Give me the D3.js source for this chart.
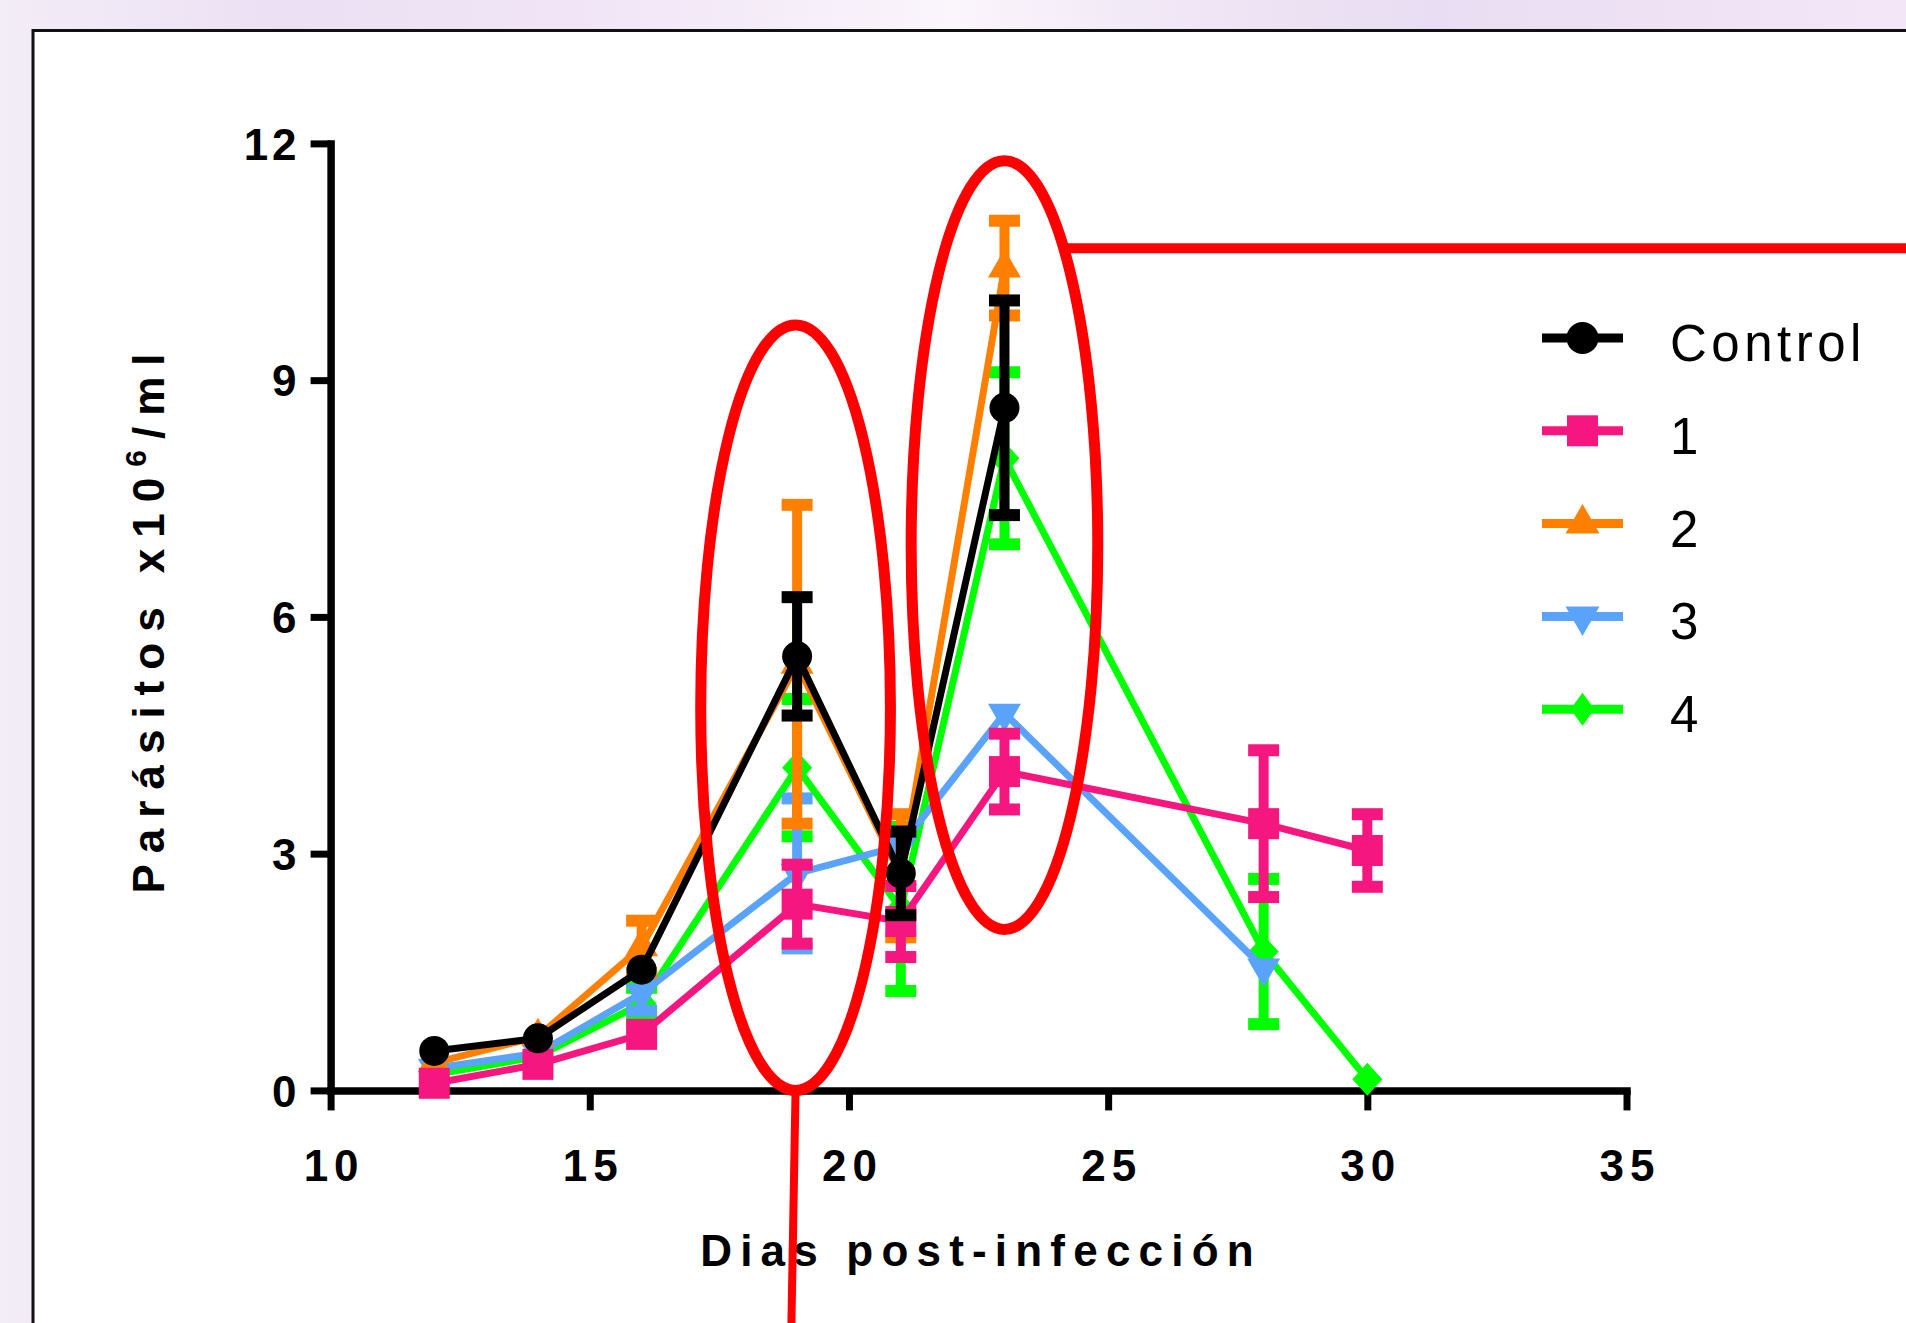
<!DOCTYPE html>
<html>
<head>
<meta charset="utf-8">
<script src="https://cdn.jsdelivr.net/npm/d3@7"></script>
<style>
  html, body { margin: 0; padding: 0; overflow: hidden; }
  svg { display: block; }
  .tick text { font-family: "Liberation Sans", Arial, sans-serif; font-weight: bold; }
</style>
</head>
<body>
<svg id="chart"></svg>
<script>
// days post-infection
const days = [12, 14, 16, 19, 21, 23, 28, 30];

const controlVals = [0.50, 0.66, 1.53, 5.50, 2.75, 8.65];
const controlErr  = [0, 0, 0, 0.75, 0.53, 1.36];
const g1Vals = [0.09, 0.33, 0.71, 2.36, 2.14, 4.04, 3.38, 3.04];
const g1Err  = [0, 0, 0, 0.50, 0.45, 0.48, 0.93, 0.46];
const g2Vals = [0.35, 0.68, 1.82, 5.40, 2.72, 10.42];
const g2Err  = [0, 0, 0.33, 2.02, 0.78, 0.60];
const g3Vals = [0.28, 0.47, 1.23, 2.75, 3.10, 4.78, 1.55];
const g3Err  = [0, 0, 0.22, 0.95, 0, 0, 0];
const g4Vals = [0.20, 0.43, 1.10, 4.09, 2.30, 8.01, 1.76, 0.14];
const g4Err  = [0, 0, 0.20, 0.87, 1.04, 1.09, 0.92, 0];

const xTicks = [10, 15, 20, 25, 30, 35];
const yTicks = [0, 3, 6, 9, 12];

// red annotations (data units)
const ellipses = [
  { day: 18.97, val: 4.85, rDay: 1.83, rVal: 4.85 },
  { day: 23.0, val: 6.91, rDay: 1.80, rVal: 4.87 }
];
const calloutLevel = 10.67;
const pointerEndDay = 18.89;

const width = 1906, height = 1323;
const margin = { top: 143.4, right: 279.5, bottom: 232.6, left: 330.6 };
const font = '"Liberation Sans", Arial, sans-serif';

const svg = d3.select("#chart").attr("width", width).attr("height", height);

// lavender page background
const defs = svg.append("defs");
const grad = defs.append("linearGradient").attr("id", "bg").attr("x1", 0).attr("x2", 1).attr("y1", 0).attr("y2", 0);
[["0", "#f3edf7"], ["0.15", "#ece0f4"], ["0.3", "#f0e4f6"], ["0.42", "#f6eef9"], ["0.5", "#fbf5fc"],
 ["0.62", "#f0e6f5"], ["0.75", "#e8ddf2"], ["0.88", "#efe2f5"], ["1", "#f2e6f7"]]
  .forEach(([o, c]) => grad.append("stop").attr("offset", o).attr("stop-color", c));
svg.append("rect").attr("width", width).attr("height", height).attr("fill", "url(#bg)");
svg.append("rect")
  .attr("x", 33).attr("y", 30.5)
  .attr("width", width).attr("height", height)
  .attr("fill", "#ffffff").attr("stroke", "#111").attr("stroke-width", 3);

const x = d3.scaleLinear().domain([10, 35]).range([margin.left, width - margin.right]);
const y = d3.scaleLinear().domain([0, 12]).range([height - margin.bottom, margin.top]);

// axes
const xAxis = svg.append("g")
  .attr("transform", `translate(0,${y(0)})`)
  .call(d3.axisBottom(x).tickValues(xTicks).tickSize(20).tickSizeOuter(0).tickPadding(0));
const yAxis = svg.append("g")
  .attr("transform", `translate(${x(10)},0)`)
  .call(d3.axisLeft(y).tickValues(yTicks).tickSize(20).tickSizeOuter(0).tickPadding(0));

[xAxis, yAxis].forEach(g => {
  g.select(".domain").attr("stroke", "#000").attr("stroke-width", 7.5).attr("stroke-linecap", "square");
  g.selectAll(".tick line").attr("stroke", "#000").attr("stroke-width", 7);
});
xAxis.selectAll(".tick text")
  .attr("y", 91).attr("dy", 0)
  .attr("font-size", 44).attr("letter-spacing", 6).attr("fill", "#000")
  .attr("text-anchor", "middle").attr("dx", 3);
yAxis.selectAll(".tick text")
  .attr("x", -30).attr("dy", "0.36em")
  .attr("font-size", 44).attr("letter-spacing", 4).attr("fill", "#000");

// axis titles
svg.append("text")
  .attr("x", 981).attr("y", 1266)
  .attr("text-anchor", "middle")
  .attr("font-family", font).attr("font-weight", "bold")
  .attr("font-size", 44).attr("letter-spacing", 8.2)
  .text("Dias post-infección");

const yTitle = svg.append("text")
  .attr("transform", "translate(164,618) rotate(-90)")
  .attr("text-anchor", "middle")
  .attr("font-family", font).attr("font-weight", "bold")
  .attr("font-size", 44).attr("letter-spacing", 11);
yTitle.append("tspan").text("Parásitos x10");
yTitle.append("tspan").attr("font-size", 30).attr("dy", -18).text("6");
yTitle.append("tspan").attr("dy", 18).text("/ml");

// diamond marker with separate half-width / half-height
const diamond = (hw, hh) => `M0,${-hh}L${hw},0L0,${hh}L${-hw},0Z`;

// series, drawn bottom to top
const series = [
  { name: "4", vals: g4Vals, err: g4Err, color: "#00ff00", path: diamond(15, 16.5), legendPath: diamond(12, 16.5), rot: 0 },
  { name: "3", vals: g3Vals, err: g3Err, color: "#5aa3fb", path: d3.symbol().type(d3.symbolTriangle).size(470)(), legendPath: d3.symbol().type(d3.symbolTriangle).size(500)(), rot: 180 },
  { name: "2", vals: g2Vals, err: g2Err, color: "#ff8000", path: d3.symbol().type(d3.symbolTriangle).size(470)(), legendPath: d3.symbol().type(d3.symbolTriangle).size(500)(), rot: 0 },
  { name: "1", vals: g1Vals, err: g1Err, color: "#f5177f", path: d3.symbol().type(d3.symbolSquare).size(961)(), legendPath: d3.symbol().type(d3.symbolSquare).size(961)(), rot: 0 },
  { name: "Control", vals: controlVals, err: controlErr, color: "#000000", path: d3.symbol().type(d3.symbolCircle).size(707)(), legendPath: d3.symbol().type(d3.symbolCircle).size(804)(), rot: 0 }
];

const line = d3.line().x(d => x(d.day)).y(d => y(d.v));

series.forEach(s => {
  const pts = s.vals.map((v, i) => ({ day: days[i], v: v, e: s.err[i] }));
  const g = svg.append("g");
  g.append("path").datum(pts)
    .attr("d", line).attr("fill", "none")
    .attr("stroke", s.color).attr("stroke-width", 7).attr("stroke-linejoin", "miter");

  const eb = g.selectAll(".err").data(pts.filter(d => d.e > 0)).enter().append("g");
  eb.append("line")
    .attr("x1", d => x(d.day)).attr("x2", d => x(d.day))
    .attr("y1", d => y(d.v + d.e)).attr("y2", d => y(d.v - d.e))
    .attr("stroke", s.color).attr("stroke-width", 10);
  [1, -1].forEach(sign => {
    eb.append("line")
      .attr("x1", d => x(d.day) - 15.5).attr("x2", d => x(d.day) + 15.5)
      .attr("y1", d => y(d.v + sign * d.e)).attr("y2", d => y(d.v + sign * d.e))
      .attr("stroke", s.color).attr("stroke-width", 12);
  });

  g.selectAll(".mk").data(pts).enter().append("path")
    .attr("d", s.path)
    .attr("transform", d => `translate(${x(d.day)},${y(d.v)}) rotate(${s.rot})`)
    .attr("fill", s.color);
});

// legend
const legendOrder = ["Control", "1", "2", "3", "4"];
const legend = svg.append("g");
legendOrder.forEach((name, i) => {
  const s = series.find(d => d.name === name);
  const ly = 338 + i * 92.8;
  legend.append("line")
    .attr("x1", 1542).attr("x2", 1623).attr("y1", ly).attr("y2", ly)
    .attr("stroke", s.color).attr("stroke-width", 9);
  legend.append("path")
    .attr("d", s.legendPath)
    .attr("transform", `translate(1582.5,${ly}) rotate(${s.rot})`)
    .attr("fill", s.color);
  legend.append("text")
    .attr("x", 1670).attr("y", ly + 23)
    .attr("font-family", font).attr("font-size", 51)
    .attr("letter-spacing", name === "Control" ? 4.5 : 0)
    .attr("fill", "#000")
    .text(name);
});

// red annotations
const ann = svg.append("g").attr("fill", "none").attr("stroke", "#ff0000");
ellipses.forEach(e => {
  ann.append("ellipse")
    .attr("cx", x(e.day)).attr("cy", y(e.val))
    .attr("rx", x(e.day + e.rDay) - x(e.day))
    .attr("ry", y(e.val) - y(e.val + e.rVal))
    .attr("stroke-width", 11);
});
// callout from right ellipse to page edge
const e2 = ellipses[1];
const cx2 = x(e2.day), cy2 = y(e2.val);
const rx2 = x(e2.day + e2.rDay) - cx2, ry2 = cy2 - y(e2.val + e2.rVal);
const ly0 = y(calloutLevel);
const lx0 = cx2 + rx2 * Math.sqrt(1 - Math.pow((ly0 - cy2) / ry2, 2));
ann.append("line")
  .attr("x1", lx0).attr("x2", width).attr("y1", ly0).attr("y2", ly0)
  .attr("stroke-width", 10);
// pointer from bottom of left ellipse down
const e1 = ellipses[0];
ann.append("line")
  .attr("x1", x(e1.day)).attr("y1", y(e1.val - e1.rVal))
  .attr("x2", x(pointerEndDay)).attr("y2", height)
  .attr("stroke-width", 8);
</script>
</body>
</html>
